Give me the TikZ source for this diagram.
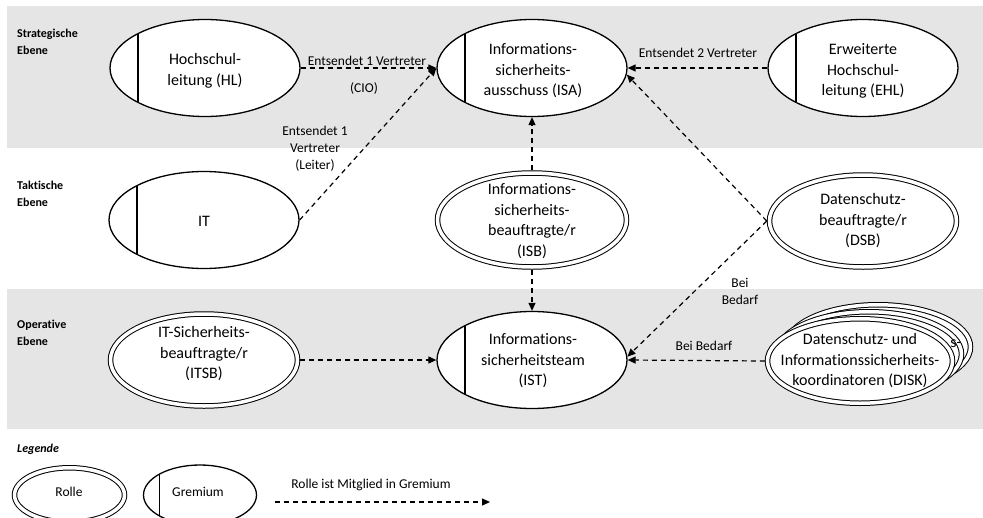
\documentclass[tikz,border=0pt]{standalone}
\usepackage{fontspec}
\setmainfont[Ligatures=NoCommon]{Carlito}
\usetikzlibrary{shapes.geometric,arrows.meta}
\definecolor{bandgray}{RGB}{229,229,229}
\begin{document}
\begin{tikzpicture}[x=1pt,y=-1pt,
  gremium/.style={ellipse, draw, line width=1.3pt, fill=white, minimum width=190pt, minimum height=97pt, inner sep=0pt,
    path picture={\draw[line width=1.2pt] ([xshift=#1]path picture bounding box.south west) -- ([xshift=#1]path picture bounding box.north west);}},
  gremium/.default=28pt,
  rolle/.style={ellipse, draw, line width=1pt, double=white, double distance=3.5pt, fill=white, minimum width=187pt, minimum height=92pt, inner sep=0pt, outer sep=2.75pt},
  txt/.style={align=center, font=\fontsize{16}{20.5}\selectfont, inner sep=0pt},
  lbl/.style={align=center, font=\fontsize{13.5}{17}\selectfont, inner sep=0pt},
  lvl/.style={align=left, anchor=west, font=\bfseries\fontsize{12}{17}\selectfont, inner sep=0pt},
  arr/.style={draw, line width=1.2pt, dash pattern=on 5pt off 4pt, -{Triangle[length=8pt,width=7pt]}}
]
\clip (0,0) rectangle (983,517);
\fill[bandgray] (7,6) rectangle (983,148);
\fill[bandgray] (7,289) rectangle (983,429);

% level labels
\node[lvl] (l1) at (17,42) {Strategische\\Ebene};
\node[lvl] (l2) at (17,194) {Taktische\\Ebene};
\node[lvl] (l3) at (17,333) {Operative\\Ebene};

% strategic level
\node[gremium] (hl) at (205,68) {};
\node[txt] (hlt) at (205,71) {Hochschul-\\leitung (HL)};
\node[gremium] (isa) at (532,68) {};
\node[txt] (isat) at (533,71) {Informations-\\sicherheits-\\ausschuss (ISA)};
\node[gremium] (ehl) at (863,68) {};
\node[txt] (ehlt) at (863,71) {Erweiterte\\Hochschul-\\leitung (EHL)};

% tactical level
\node[gremium] (it) at (204,220) {};
\node[txt] (itt) at (204,221) {IT};
\node[rolle, minimum width=189pt, minimum height=94pt] (isb) at (532,220) {};
\node[txt] (isbt) at (532,221) {Informations-\\sicherheits-\\beauftragte/r\\(ISB)};
\node[rolle] (dsb) at (863,221) {};
\node[txt] (dsbt) at (863,221) {Datenschutz-\\beauftragte/r\\(DSB)};

% operative level
\node[rolle] (itsb) at (204,360) {};
\node[txt] (itsbt) at (204,354) {IT-Sicherheits-\\beauftragte/r\\(ITSB)};
\node[gremium] (ist) at (532,360) {};
\node[txt] (istt) at (533,361) {Informations-\\sicherheitsteam\\(IST)};

% DISK: stack of three role ellipses
\node[rolle, minimum width=185pt, minimum height=84.5pt] (disk3) at (878,347) {};
\node[rolle, minimum width=185pt, minimum height=84.5pt] (disk2) at (869,354) {};
\node[txt] (disk2t) at (956,344) {s-};
\node[rolle, minimum width=185pt, minimum height=84.5pt] (disk) at (860,361) {};
\node[txt] (diskt) at (860,361) {Datenschutz- und\\Informationssicherheits-\\koordinatoren (DISK)};

% connectors
\draw[arr] (hl.east) -- (isa.west);
\draw[arr] (ehl.west) -- (isa.east);
\draw[arr] (it.east) -- (isa.west);
\draw[arr] (isb.north) -- (isa.south);
\draw[arr] (isb.south) -- (ist.north);
\draw[arr] (dsb.west) -- (isa.-4);
\draw[arr] (dsb.west) -- (ist.2);
\draw[arr] (disk.west) -- (ist.east);
\draw[arr] (itsb.east) -- (ist.west);

% connector labels
\node[lbl] (lab1) at (367,61) {Entsendet 1 Vertreter};
\node[lbl] (lab1b) at (364,88) {(CIO)};
\node[lbl] (lab2) at (698,53) {Entsendet 2 Vertreter};
\node[lbl] (lab3) at (315,149) {Entsendet 1\\Vertreter\\(Leiter)};
\node[lbl] (lab4) at (740,291) {Bei\\Bedarf};
\node[lbl] (lab5) at (704,346) {Bei Bedarf};

% legend
\node[lvl, font=\bfseries\itshape\fontsize{12}{14}\selectfont] (leg) at (17,449) {Legende};
\node[rolle, minimum width=110pt, minimum height=54.5pt] (lr) at (69.5,495) {};
\node[lbl, font=\fontsize{13.5}{16}\selectfont] (lrt) at (69,492) {Rolle};
\node[gremium=16pt, minimum width=113pt, minimum height=60pt] (lg) at (200,495) {};
\node[lbl, font=\fontsize{13.5}{16}\selectfont] (lgt) at (198,492) {Gremium};
\coordinate (la) at (275,502);
\coordinate (lb) at (490,502);
\draw[arr] (la) -- (lb);
\node[lbl] (lal) at (371,485) {Rolle ist Mitglied in Gremium};
\end{tikzpicture}
\end{document}
